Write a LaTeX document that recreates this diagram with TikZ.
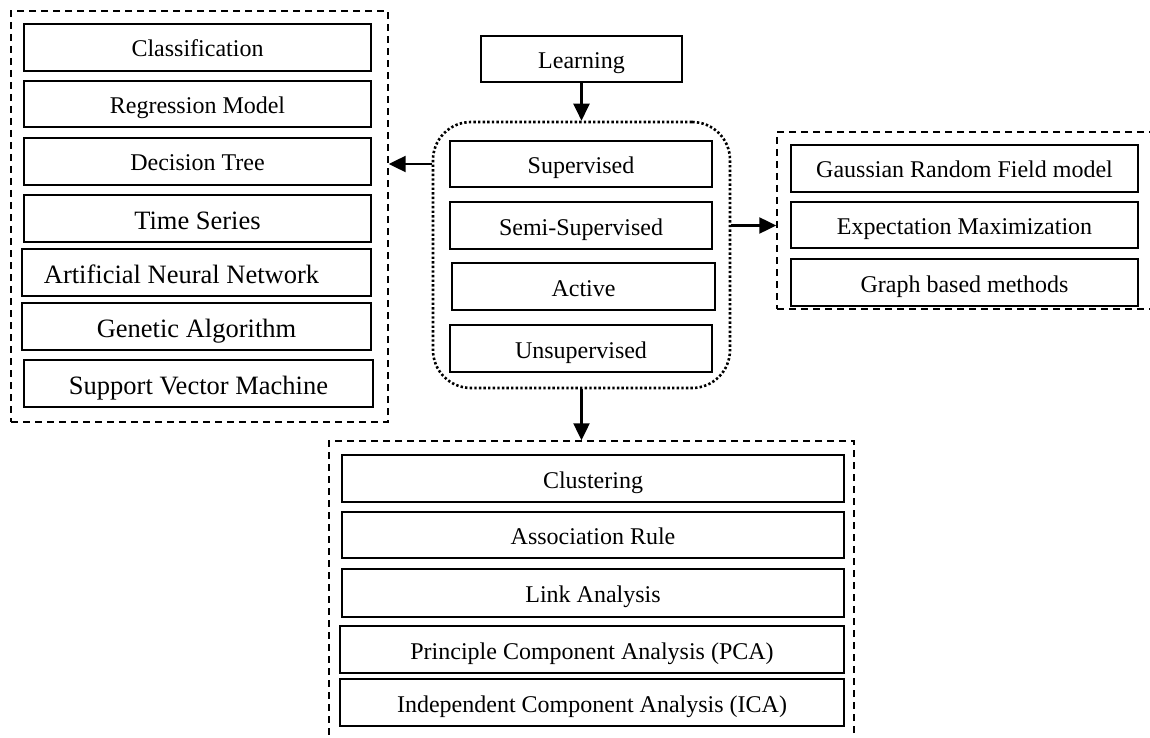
\documentclass[tikz,border=0pt]{standalone}
\usepackage{fontspec}
\setmainfont{Liberation Serif}
\usetikzlibrary{arrows.meta}
\tikzset{
  item/.style={draw, line width=1.5pt, inner sep=0pt, text height=19pt, text depth=0pt,
    font=\fontsize{24}{28}\selectfont},
  bigitem/.style={item, text height=21pt, font=\fontsize{26.5}{30}\selectfont},
  groupbox/.style={draw, dash pattern=on 7pt off 5pt, line width=1.4pt, inner sep=0pt},
  dotbox/.style={draw, dash pattern=on 2.4pt off 2.2pt, line width=2.6pt, rounded corners=38pt, inner sep=0pt},
  arr/.style={-{Triangle[length=17pt,width=16pt]}, line width=2.2pt}
}
\begin{document}
\begin{tikzpicture}[x=1pt,y=-1pt]
\clip (0,0) rectangle (1150,738);
\fill[white] (0,0) rectangle (1150,738);

% left group
\node[groupbox, minimum width=377pt, minimum height=411pt] (L) at (199.5,216.5) {};
\node[item, minimum width=347pt, minimum height=47pt] (cls) at (197.5,47.5) {Classification};
\node[item, minimum width=347pt, minimum height=46pt] (reg) at (197.5,104) {Regression Model};
\node[item, minimum width=347pt, minimum height=47pt] (dt) at (197.5,161.5) {Decision Tree};
\node[bigitem, minimum width=347pt, minimum height=47pt] (ts) at (197.5,218.5) {Time Series};
\node[bigitem, minimum width=349pt, minimum height=47pt] (ann) at (196.5,272.5) {Artificial Neural Network\hspace*{30pt}};
\node[bigitem, minimum width=349pt, minimum height=47pt] (ga) at (196.5,326.5) {Genetic Algorithm};
\node[bigitem, minimum width=349pt, minimum height=47pt] (svm) at (198.5,383.5) {Support Vector Machine};

% center
\node[item, minimum width=201pt, minimum height=46pt] (learn) at (581.5,59) {Learning};
\node[dotbox, minimum width=297pt, minimum height=266pt] (D) at (581.5,255) {};
\node[item, minimum width=262pt, minimum height=46pt] (sup) at (581,164) {Supervised};
\node[item, minimum width=262pt, minimum height=47pt] (semi) at (581,225.5) {Semi-Supervised};
\node[item, minimum width=263pt, minimum height=47pt] (act) at (583.5,286.5) {Active};
\node[item, minimum width=262pt, minimum height=47pt] (uns) at (581,348.5) {Unsupervised};

% right group
\node[groupbox, minimum width=383pt, minimum height=177pt] (R) at (968.5,220.5) {};
\node[item, minimum width=347pt, minimum height=47pt] (grf) at (964.5,168.5) {Gaussian Random Field model};
\node[item, minimum width=347pt, minimum height=46pt] (em) at (964.5,225) {Expectation Maximization};
\node[item, minimum width=347pt, minimum height=47pt] (gb) at (964.5,282.5) {Graph based methods};

% bottom group
\node[groupbox, minimum width=525pt, minimum height=319pt] (B) at (591.5,600.5) {};
\node[item, minimum width=502pt, minimum height=47pt] (clu) at (593,478.5) {Clustering};
\node[item, minimum width=502pt, minimum height=46pt] (ass) at (593,535) {Association Rule};
\node[item, minimum width=502pt, minimum height=48pt] (link) at (593,593) {Link Analysis};
\node[item, minimum width=504pt, minimum height=47pt] (pca) at (592,649.5) {Principle Component Analysis (PCA)};
\node[item, minimum width=504pt, minimum height=47pt] (ica) at (592,702.5) {Independent Component Analysis (ICA)};

% connectors
\draw[arr] (learn.south) -- (D.north);
\draw[arr] (D.west |- sup.west) -- (L.east |- sup.west);
\draw[arr] (D.east |- semi.east) -- (R.west |- semi.east);
\draw[arr] (D.south) -- (D.south |- B.north);
\end{tikzpicture}
\end{document}
